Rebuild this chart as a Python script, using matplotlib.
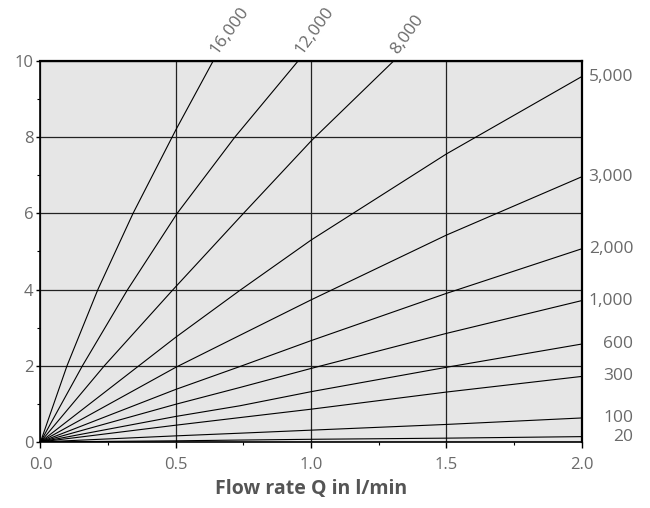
import matplotlib
matplotlib.use("Agg")
import matplotlib.pyplot as plt

plt.rcParams['font.family'] = ['Open Sans', 'DejaVu Sans']

# viscosity curves, points (flow rate Q, pressure)
steep_names = ["16,000", "12,000", "8,000"]
steep_q = [
    [0, 0.098, 0.212, 0.342, 0.5, 0.638],
    [0, 0.155, 0.322, 0.505, 0.718, 0.952],
    [0, 0.236, 0.49, 0.75, 1.0, 1.305],
]
steep_y = [
    [0, 2, 4, 6, 8.19, 10],
    [0, 2, 4, 6, 8, 10],
    [0, 2, 4, 6, 7.9, 10],
]

flat_names = ["5,000", "3,000", "2,000", "1,000", "600", "300", "100", "20"]
flat_q = [0, 0.5, 0.737, 1.0, 1.5, 2.0]
flat_y = [
    [0, 2.75, 3.98, 5.30, 7.56, 9.59],
    [0, 1.96, 2.80, 3.73, 5.43, 6.96],
    [0, 1.38, 1.98, 2.66, 3.90, 5.07],
    [0, 0.99, 1.43, 1.93, 2.85, 3.71],
    [0, 0.67, 0.95, 1.32, 1.96, 2.57],
    [0, 0.44, 0.64, 0.86, 1.31, 1.72],
    [0, 0.16, 0.23, 0.31, 0.46, 0.63],
    [0, 0.03, 0.05, 0.07, 0.10, 0.14],
]

x_ticks = [0.0, 0.5, 1.0, 1.5, 2.0]
y_ticks = [0, 2, 4, 6, 8, 10]

txt = "#6a6a6a"

fig = plt.figure(figsize=(6.5, 5.08), dpi=100)
ax = fig.add_axes([0.0623, 0.130, 0.8327, 0.750])
ax.set_facecolor("#e6e6e6")

for q, y, name in zip(steep_q, steep_y, steep_names):
    ax.plot(q, y, color="black", lw=0.8, clip_on=False)
    ax.annotate(name, (q[-1], y[-1]), xytext=(5, 3), textcoords="offset points",
                rotation=54, rotation_mode="anchor", ha="left", va="bottom",
                fontsize=12.5, color=txt, annotation_clip=False)

for y, name in zip(flat_y, flat_names):
    ax.plot(flat_q, y, color="black", lw=0.8)
    ax.annotate(name, (flat_q[-1], y[-1]), xytext=(37, 0), textcoords="offset points",
                ha="right", va="center", fontsize=12.5, color=txt, annotation_clip=False)

ax.set_xlim(0, 2.0)
ax.set_ylim(0, 10)
ax.set_xticks(x_ticks)
ax.set_xticklabels([f"{v:.1f}" for v in x_ticks])
ax.set_yticks(y_ticks)
ax.set_xticks([0.25, 0.75, 1.25, 1.75], minor=True)
ax.set_yticks([1, 3, 5, 7, 9], minor=True)
ax.grid(True, which="major", color="#222222", lw=0.9)
ax.set_axisbelow(True)

ax.tick_params(which="major", direction="out", length=4, width=1, color="black",
               labelsize=12, labelcolor=txt)
ax.tick_params(axis="x", which="major", pad=7)
ax.tick_params(axis="y", which="major", pad=2, length=3)
ax.tick_params(which="minor", direction="out", length=2.5, width=0.8, color="black")

for side in ["left", "bottom"]:
    ax.spines[side].set_linewidth(1.2)
for side in ["top", "right"]:
    ax.spines[side].set_linewidth(1.6)

ax.set_xlabel("Flow rate Q in l/min", fontsize=14, fontweight="bold", color="#555555",
              labelpad=4)

fig.savefig("out.png", dpi=100)
